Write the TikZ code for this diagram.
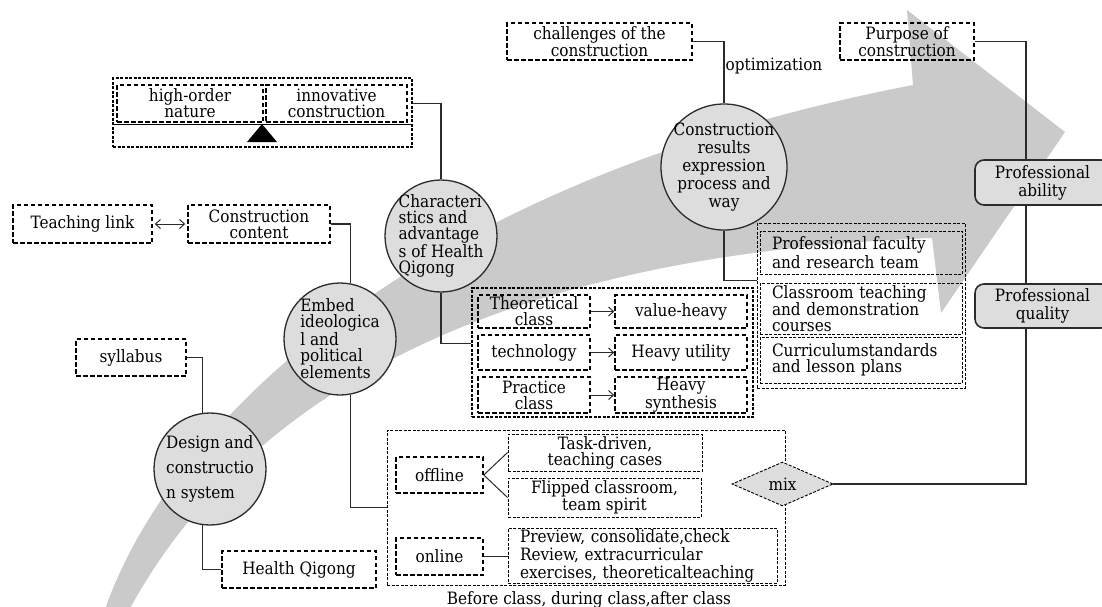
\documentclass[tikz,border=0pt]{standalone}
\usepackage{fontspec}
\setmainfont{DejaVu Serif Condensed}
\usetikzlibrary{arrows.meta,shapes.geometric}
\definecolor{arrowgray}{RGB}{202,202,202}
\definecolor{nodegray}{RGB}{221,221,221}
\definecolor{linegray}{RGB}{42,42,48}
\tikzset{
  dashbox/.style={draw=black, line width=1.5pt, dash pattern=on 4.5pt off 2.5pt, inner sep=0pt, align=center},
  thinbox/.style={draw=black, line width=0.9pt, dash pattern=on 3pt off 1.5pt, inner sep=0pt, align=center},
  bubble/.style={circle, draw=linegray, line width=1.3pt, fill=nodegray, inner sep=-10pt, minimum size=112pt},
  probox/.style={draw=linegray, line width=1.6pt, fill=nodegray, rounded corners=9pt, minimum width=135pt, inner sep=0pt, align=center, font=\fontsize{17}{18}\selectfont},
  link/.style={draw=linegray, line width=1.2pt},
  flow/.style={draw=linegray, line width=1pt, ->}
}

\begin{document}
\begin{tikzpicture}[x=1pt, y=-1pt, font=\fontsize{17}{16}\selectfont, >={Straight Barb[length=5pt,width=9pt]}]
    \useasboundingbox (0,0) rectangle (1102,606);

    % Big curved arrow in the background
    \fill[arrowgray] (104,612) .. controls (170,420) and (420,180) .. (913,85) -- (907,10) -- (1065,132)
      -- (941,313) -- (932,238) .. controls (620,250) and (280,330) .. (128,612) -- cycle;

    % Balance of characteristics
    \node[thinbox, line width=1.1pt, minimum width=299pt, minimum height=69pt] (weigh) at (262.5,112.5) {};
    \node[dashbox, minimum width=146pt, minimum height=37pt] (high) at (190,103.5) {high-order\\nature};
    \node[dashbox, minimum width=141pt, minimum height=37pt] (innov) at (336.5,103.5) {innovative\\construction};
    \draw[line width=1pt] (113,124) -- (412,124);
    \fill (262,124) -- (247,142) -- (277,142) -- cycle;

    % Left boxes
    \node[dashbox, minimum width=139pt, minimum height=38pt] (teach) at (82.5,224) {Teaching link};
    \node[dashbox, minimum width=142pt, minimum height=38pt] (cont) at (259,224) {Construction\\content};
    \node[dashbox, minimum width=110pt, minimum height=37pt] (syl) at (131,357.5) {syllabus};
    \node[dashbox, minimum width=154pt, minimum height=37pt] (qigong) at (299,569.5) {Health Qigong};

    % Circles along the arrow
    \node[bubble, align=left, font=\fontsize{17}{25}\selectfont] (design) at (210,469) {Design and\\constructio\\n system};
    \node[bubble, align=left] (embed) at (340,339) {Embed\\ideologica\\l and\\political\\elements};
    \node[bubble, align=left] (char) at (441,236) {Characteri\\stics and\\advantage\\s of Health\\Qigong};
    \node[bubble, align=center, minimum size=126pt, font=\fontsize{17}{18}\selectfont] (res) at (724,167) {Construction\\results\\expression\\process and\\way};

    % Class types
    \node[thinbox, line width=1.2pt, minimum width=281pt, minimum height=129pt] (types) at (612.5,352.5) {};
    \node[dashbox, minimum width=112pt, minimum height=33pt] (theo) at (534,311.5) {Theoretical\\class};
    \node[dashbox, minimum width=112pt, minimum height=35pt] (tech) at (534,352.5) {technology};
    \node[dashbox, minimum width=112pt, minimum height=36pt] (prac) at (534,395) {Practice\\class};
    \node[dashbox, minimum width=132pt, minimum height=33pt] (value) at (681,311.5) {value-heavy};
    \node[dashbox, minimum width=132pt, minimum height=35pt] (util) at (681,352.5) {Heavy utility};
    \node[dashbox, minimum width=132pt, minimum height=36pt] (synth) at (681,395) {Heavy\\synthesis};

    % Results
    \node[thinbox, minimum width=208pt, minimum height=165pt] (outcome) at (861,305.5) {};
    \node[thinbox, align=left, text width=178pt, inner xsep=12pt, minimum height=43pt, font=\fontsize{17}{19}\selectfont] (faculty) at (861,252.5) {Professional faculty\\and research team};
    \node[thinbox, align=left, text width=178pt, inner xsep=12pt, minimum height=51pt] (course) at (861,308.5) {Classroom teaching\\and demonstration\\courses};
    \node[thinbox, align=left, text width=178pt, inner xsep=12pt, minimum height=46pt] (plan) at (861,360) {Curriculumstandards\\and lesson plans};

    % Top boxes
    \node[dashbox, minimum width=185pt, minimum height=37pt] (chal) at (599.5,41.5) {challenges of the\\construction};
    \node[dashbox, minimum width=134pt, minimum height=37pt] (purp) at (907,41.5) {Purpose of\\construction};

    % Professional targets
    \node[probox, minimum height=45pt] (abil) at (1042.5,182.5) {Professional\\ability};
    \node[probox, minimum height=44pt] (qual) at (1042.5,306) {Professional\\quality};

    % Teaching modes
    \node[thinbox, minimum width=398pt, minimum height=155pt] (blend) at (586,507.5) {};
    \node[dashbox, minimum width=87pt, minimum height=36pt] (off) at (439.5,475) {offline};
    \node[dashbox, minimum width=87pt, minimum height=37pt] (onl) at (439.5,556.5) {online};
    \node[thinbox, minimum width=194pt, minimum height=37pt] (task) at (605,452.5) {Task-driven,\\teaching cases};
    \node[thinbox, minimum width=193pt, minimum height=39pt] (flip) at (604.5,497.5) {Flipped classroom,\\team spirit};
    \node[thinbox, align=left, text width=245pt, inner xsep=12pt, minimum height=55pt, font=\fontsize{17}{18}\selectfont] (prev) at (642.5,555.5) {Preview, consolidate,check\\Review, extracurricular\\exercises, theoreticalteaching};
    \node[diamond, thinbox, fill=nodegray, aspect=2.3, minimum width=101pt, minimum height=44pt] (mix) at (782.5,484) {mix};
    \node[anchor=base] (phase) at (589,604) {Before class, during class,after class};

    % Connectors
    \draw[link] (weigh.east |- innov.east) -| (char.north);
    \draw[link, line width=1pt, <->, shorten <=2pt, shorten >=2pt] (teach) -- (cont);
    \draw[link] (cont.east) -| (embed.79);
    \draw[link] (syl.east) -| (design.98);
    \draw[link] (design.262) |- (qigong.west);
    \draw[link] (embed.281) |- (blend.west);
    \draw[link] (char.south) |- ([yshift=9pt]types.west);
    \draw[flow] (theo) -- (value);
    \draw[flow] (tech) -- (util);
    \draw[flow] (prac) -- (synth);
    \draw[link] (res.north) |- node[pos=0.3, anchor=west, inner xsep=1pt] (optim) {optimization} (chal.east);
    \draw[link] (res.south) |- ([yshift=25pt]outcome.west);
    \draw[link] (purp.east) -| ([xshift=-16.5pt]abil.north);
    \draw[link] ([xshift=-16.5pt]abil.south) -- ([xshift=-16.5pt]qual.north);
    \draw[link] ([xshift=-16.5pt]qual.south) |- (mix.east);
    \draw[link, line width=1pt] (off.east) -- (task.west);
    \draw[link, line width=1pt] (off.east) -- (flip.west);
    \draw[link, line width=1pt] (onl.east) -- (onl.east -| prev.west);
\end{tikzpicture}
\end{document}
